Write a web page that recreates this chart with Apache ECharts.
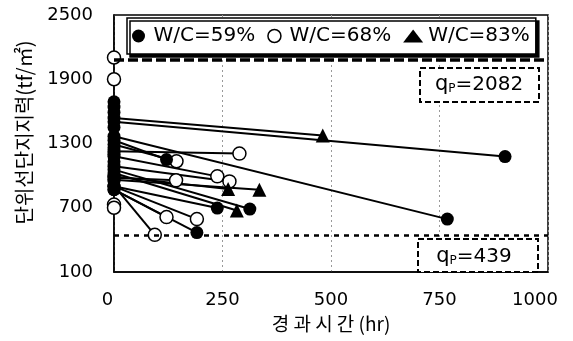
<!DOCTYPE html>
<html><head><meta charset="utf-8">
<script src="https://cdn.jsdelivr.net/npm/echarts@6/dist/echarts.min.js"></script>
<style>html,body{margin:0;padding:0;background:#fff}#c{width:573px;height:341px}</style>
</head><body><div id="c"></div>
<script>
// ---- data ----
const xTicks = [0, 250, 500, 750, 1000];
const yTicks = [100, 700, 1300, 1900, 2500];
const groups = ['W/C=59%', 'W/C=68%', 'W/C=83%'];
const qpLimits = [2082, 439];
const qpLabels = ['2082', '439'];

// W/C=59% : initial value (0 hr) -> final time / value
const w59Initial = [1503, 1367, 1330, 900, 1056, 869];
const w59Time    = [901, 768, 121, 238, 313, 191];
const w59Final   = [1178, 594, 1150, 697, 688, 468];
const w59InitialOnly = [1690, 1640, 1590, 1450, 1260, 1200, 1130, 1000, 950];

// W/C=68%
const w68Initial = [1228, 1290, 1181, 1088, 981, 869, 900, 906];
const w68Time    = [289, 144, 238, 266, 143, 121, 191, 94];
const w68Final   = [1206, 1134, 993, 946, 956, 613, 594, 447];
const w68InitialOnly = [2103, 1900, 730, 700];

// W/C=83%
const w83Initial = [1537, 993, 962, 1025];
const w83Time    = [481, 263, 335, 283];
const w83Final   = [1375, 875, 869, 675];

// ---- build ----
const FONT = 'DejaVu Sans';
const black = {color: '#000', opacity: 1};
const openStyle = {color: '#fff', borderColor: '#000', borderWidth: 1.5, opacity: 1};
const series = [];

function addGroup(name, initial, time, final, symbol, endStyle, size) {
  for (let i = 0; i < initial.length; i++) {
    series.push({
      type: 'line', name: name, z: 2, silent: true,
      showSymbol: false, symbol: 'none',
      lineStyle: {color: '#000', width: 2},
      itemStyle: black,
      data: [[0, initial[i]], [time[i], final[i]]]
    });
  }
  series.push({
    type: 'scatter', name: name, z: 3, silent: true,
    symbol: 'circle', symbolSize: 13,
    itemStyle: black,
    data: initial.map(v => [0, v])
  });
  series.push({
    type: 'scatter', name: name, z: 4, silent: true,
    symbol: symbol, symbolSize: size,
    itemStyle: endStyle,
    data: time.map((t, i) => [t, final[i]])
  });
}
addGroup(groups[1], w68Initial, w68Time, w68Final, 'circle', openStyle, 13);
addGroup(groups[2], w83Initial, w83Time, w83Final, 'triangle', black, 14);
addGroup(groups[0], w59Initial, w59Time, w59Final, 'circle', black, 13);
series.push({
  type: 'scatter', name: groups[0], z: 3, silent: true,
  symbol: 'circle', symbolSize: 13, itemStyle: black,
  data: w59InitialOnly.map(v => [0, v])
});
series.push({
  type: 'scatter', name: groups[1], z: 4, silent: true,
  symbol: 'circle', symbolSize: 13, itemStyle: openStyle,
  data: w68InitialOnly.map(v => [0, v])
});
// limit lines
series[0].markLine = {
  silent: true, symbol: ['none', 'none'], label: {show: false},
  animation: false,
  data: [
    {yAxis: qpLimits[0], lineStyle: {color: '#000', width: 3.5, type: [10, 4]}},
    {yAxis: qpLimits[1], lineStyle: {color: '#000', width: 2.5, type: [5, 5]}}
  ]
};

const chart = echarts.init(document.getElementById('c'), null, {renderer: 'canvas'});
const qpRich = {
  q: {fontSize: 21, fontFamily: FONT, color: '#000', lineHeight: 24},
  p: {fontSize: 12, fontFamily: FONT, color: '#000', verticalAlign: 'bottom', lineHeight: 12, padding: [0, 0, 2, 0]},
  v: {fontSize: 20, fontFamily: FONT, color: '#000', lineHeight: 24}
};
chart.setOption({
  animation: false,
  backgroundColor: '#fff',
  grid: {left: 114, right: 25, top: 15, bottom: 69, show: true, borderColor: '#000', borderWidth: 1.5, backgroundColor: 'transparent'},
  legend: {
    left: 127, top: 18, selectedMode: false,
    orient: 'horizontal',
    itemWidth: 20, itemHeight: 13, itemGap: 12,
    padding: [8, 6, 8, 5],
    backgroundColor: '#fff', borderColor: '#000', borderWidth: 1.5,
    shadowColor: '#000', shadowBlur: 0, shadowOffsetX: 3, shadowOffsetY: 3,
    textStyle: {fontSize: 20, fontFamily: FONT, color: '#000'},
    data: [
      {name: groups[0], icon: 'circle', itemStyle: {color: '#000', borderWidth: 0}},
      {name: groups[1], icon: 'circle', itemStyle: {color: '#fff', borderColor: '#000', borderWidth: 1.5}},
      {name: groups[2], icon: 'triangle', itemStyle: {color: '#000', borderWidth: 0}}
    ]
  },
  xAxis: {
    type: 'value', min: xTicks[0], max: xTicks[xTicks.length - 1], interval: xTicks[1] - xTicks[0],
    axisLine: {show: true, lineStyle: {color: '#000', width: 1.5}},
    axisTick: {show: false},
    splitLine: {show: true, lineStyle: {color: '#999', width: 1, type: [2, 3]}},
    axisLabel: {
      fontSize: 18, fontFamily: FONT, color: '#000', margin: 19,
      formatter: v => v === xTicks[0] ? '{l|' + v + '}' : (v === xTicks[xTicks.length - 1] ? '{r|' + v + '}' : String(v)),
      rich: {
        l: {fontSize: 18, fontFamily: FONT, color: '#000', padding: [0, 13, 0, 0]},
        r: {fontSize: 18, fontFamily: FONT, color: '#000', padding: [0, 26, 0, 0]}
      }
    },
    name: '경 과 시 간 (hr)', nameLocation: 'middle', nameGap: 35,
    nameTextStyle: {fontSize: 19, fontFamily: 'Noto Sans CJK KR', color: '#000'}
  },
  yAxis: {
    type: 'value', min: yTicks[0], max: yTicks[yTicks.length - 1], interval: yTicks[1] - yTicks[0],
    axisLine: {show: true, lineStyle: {color: '#000', width: 1.5}},
    axisTick: {show: false},
    splitLine: {show: false},
    axisLabel: {fontSize: 18, fontFamily: FONT, color: '#000', margin: 21, formatter: v => String(v)},
    name: '단위선단지지력(tf/㎡)', nameLocation: 'middle', nameGap: 80,
    nameTextStyle: {fontSize: 20, fontFamily: 'Noto Sans CJK KR', color: '#000', padding: [0, 0, 0, 22]}
  },
  graphic: [
    {type: 'rect', z: 100, shape: {x: 420, y: 68, width: 119, height: 34},
     style: {fill: '#fff', stroke: '#000', lineWidth: 2, lineDash: [6, 3]}},
    {type: 'text', z: 101, x: 479, y: 85,
     style: {text: '{q|q}{p|P}{v|=' + qpLabels[0] + '}', rich: qpRich, align: 'center', verticalAlign: 'middle', fill: '#000'}},
    {type: 'rect', z: 100, shape: {x: 418, y: 239, width: 120, height: 33},
     style: {fill: '#fff', stroke: '#000', lineWidth: 2, lineDash: [6, 3]}},
    {type: 'text', z: 101, x: 474, y: 257,
     style: {text: '{q|q}{p|P}{v|=' + qpLabels[1] + '}', rich: qpRich, align: 'center', verticalAlign: 'middle', fill: '#000'}}
  ],
  series: series
});
</script></body></html>
